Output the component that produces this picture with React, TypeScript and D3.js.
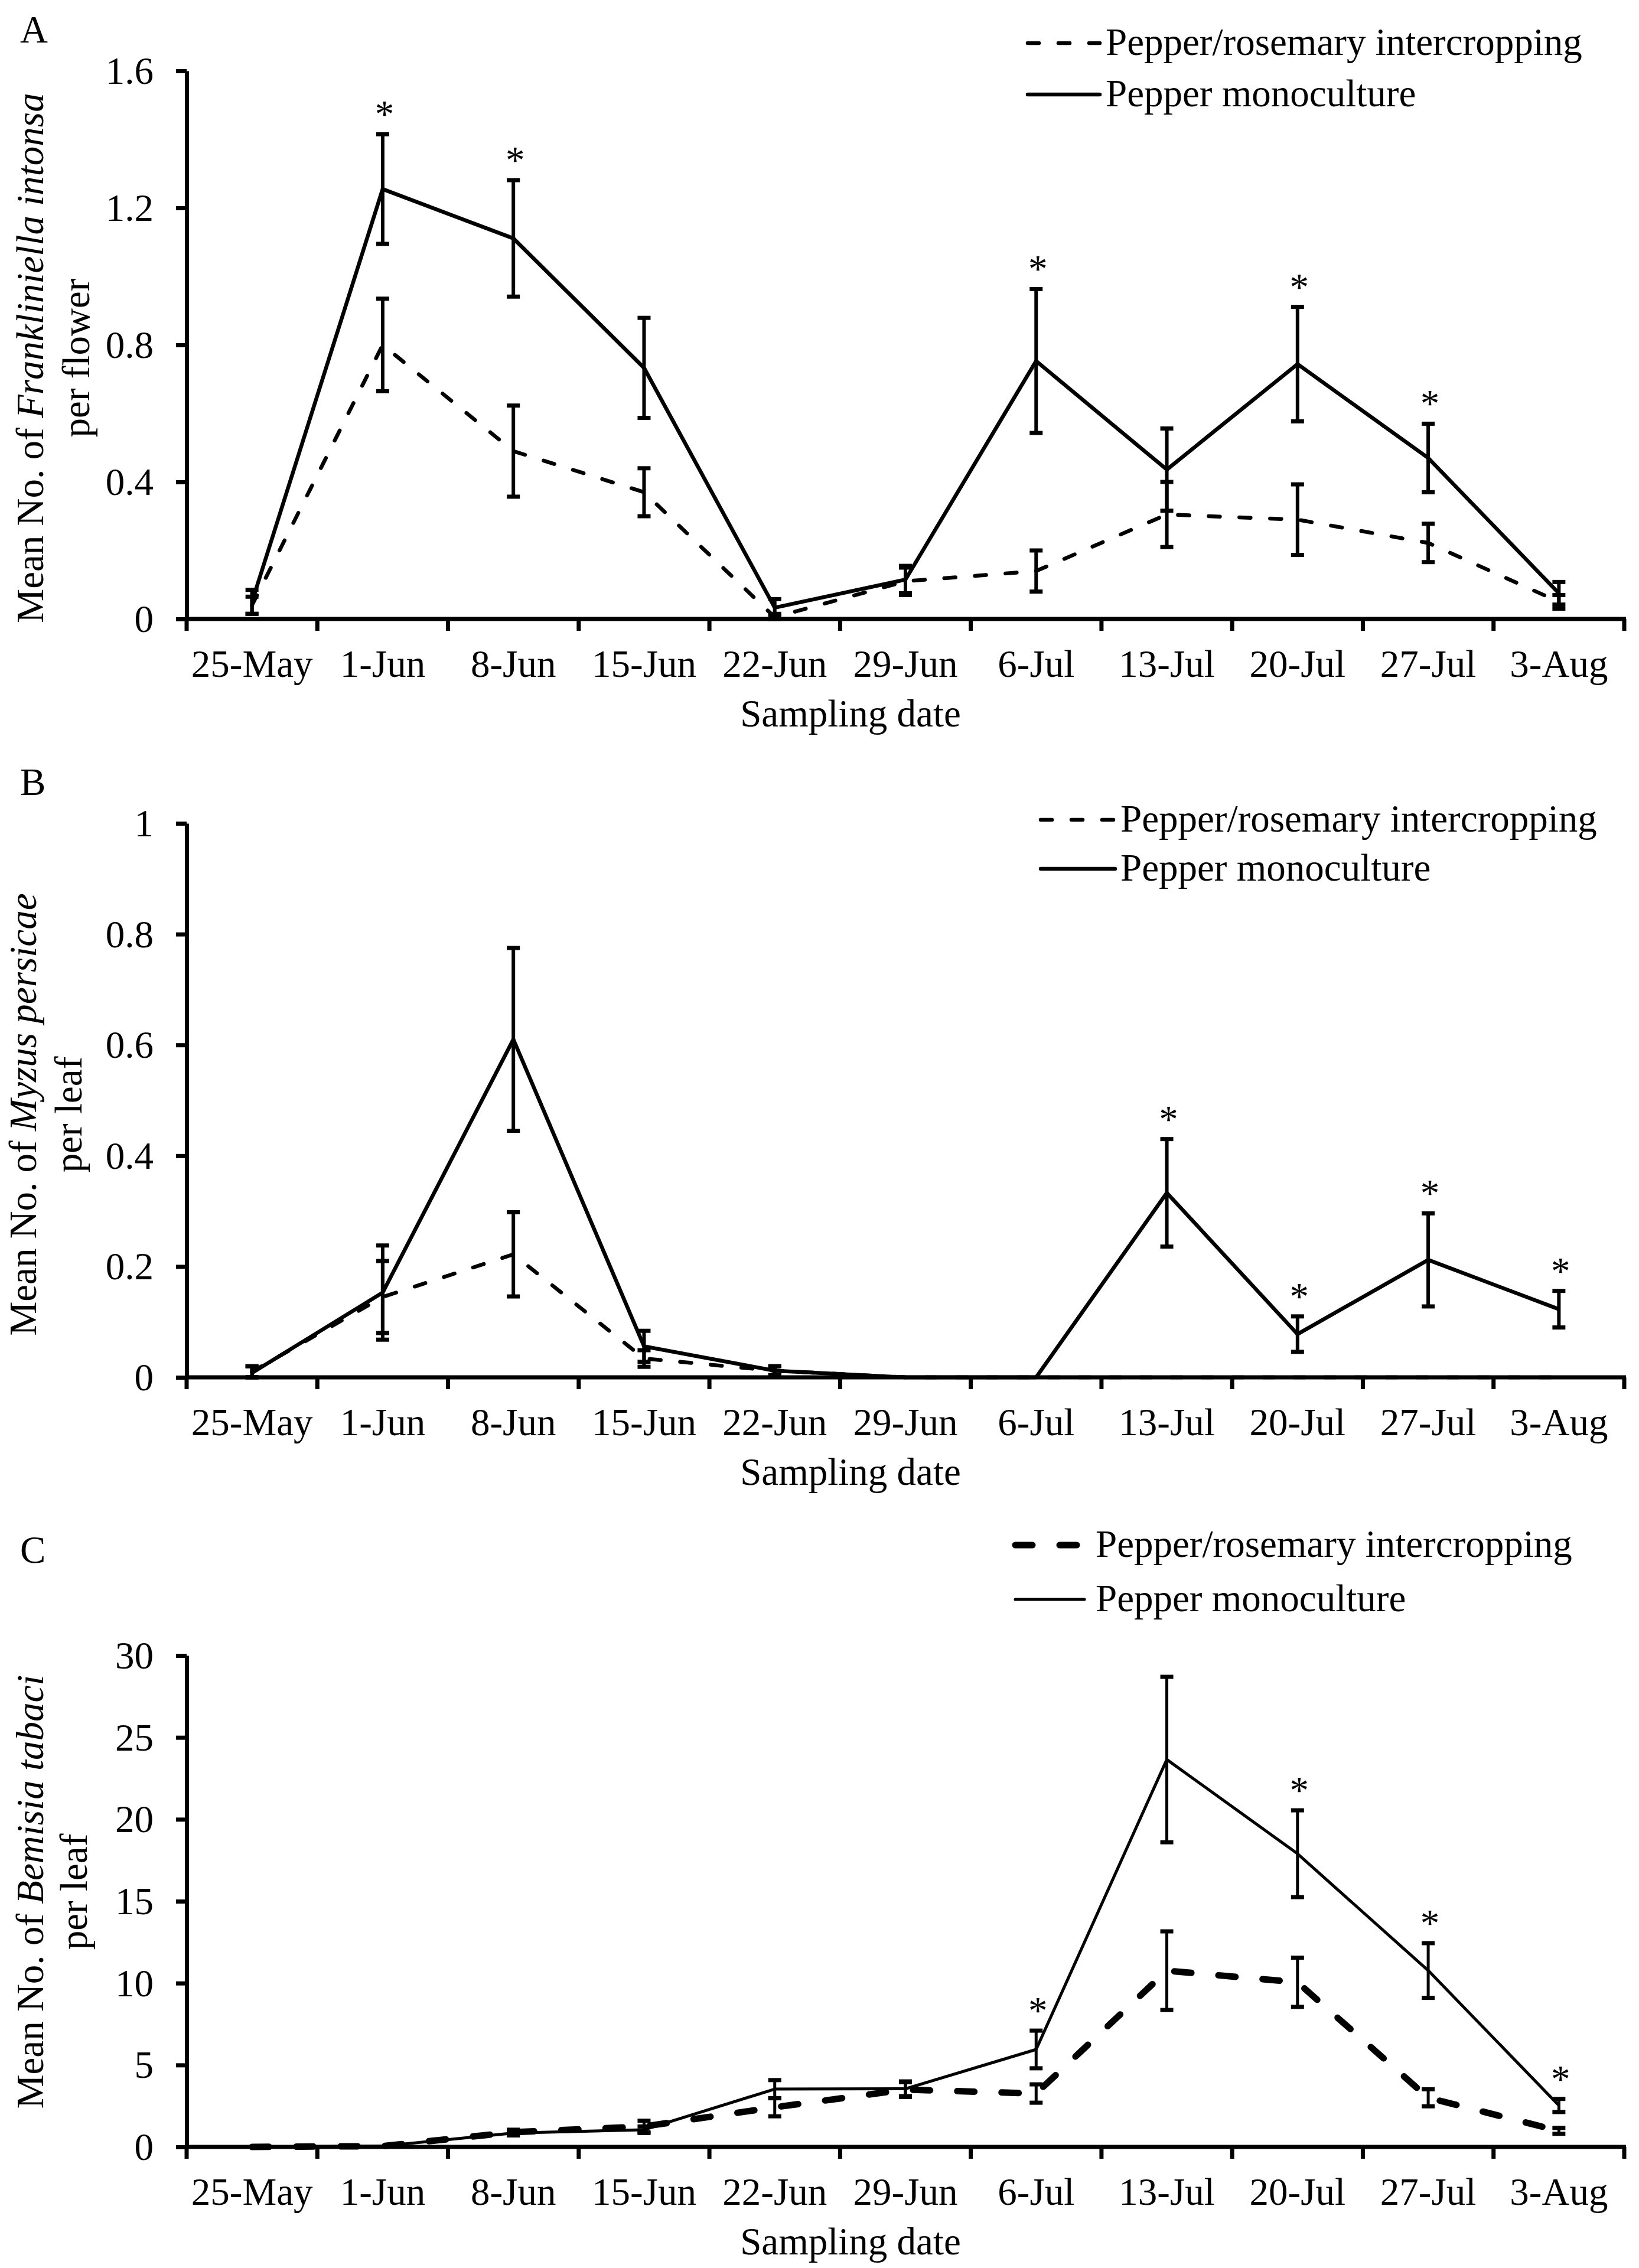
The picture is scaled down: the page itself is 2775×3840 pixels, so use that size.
import React, { useEffect, useRef } from 'react';
import * as d3 from 'd3';

// Sampling dates shared by all three panels
const dates = ['25-May', '1-Jun', '8-Jun', '15-Jun', '22-Jun', '29-Jun', '6-Jul', '13-Jul', '20-Jul', '27-Jul', '3-Aug'];

const legendLabels = ['Pepper/rosemary intercropping', 'Pepper monoculture'];

// A: Frankliniella intonsa per flower
const thripsInter = [0.04, 0.8, 0.49, 0.37, 0.005, 0.11, 0.14, 0.305, 0.29, 0.222, 0.05];
const thripsInterSE = [0.025, 0.135, 0.133, 0.07, 0.01, 0.04, 0.06, 0.095, 0.103, 0.056, 0.02];
const thripsMono = [0.05, 1.255, 1.111, 0.733, 0.033, 0.115, 0.753, 0.436, 0.744, 0.47, 0.075];
const thripsMonoSE = [0.035, 0.16, 0.17, 0.146, 0.025, 0.04, 0.21, 0.12, 0.167, 0.1, 0.033];
const thripsSig = ['1-Jun', '8-Jun', '6-Jul', '20-Jul', '27-Jul'];
const thripsTicks = [0, 0.4, 0.8, 1.2, 1.6];

// B: Myzus persicae per leaf
const aphidInter = [0.01, 0.145, 0.222, 0.034, 0.012, 0, 0, 0, 0, 0, 0];
const aphidInterSE = [0.01, 0.065, 0.076, 0.015, 0.008, 0, 0, 0, 0, 0, 0];
const aphidMono = [0.008, 0.153, 0.61, 0.056, 0.012, 0, 0, 0.333, 0.078, 0.212, 0.123];
const aphidMonoSE = [0.012, 0.085, 0.165, 0.028, 0.008, 0, 0, 0.097, 0.032, 0.084, 0.033];
const aphidSig = ['13-Jul', '20-Jul', '27-Jul', '3-Aug'];
const aphidTicks = [0, 0.2, 0.4, 0.6, 0.8, 1];

// C: Bemisia tabaci per leaf
const whiteInter = [0, 0.05, 0.9, 1.25, 2.42, 3.5, 3.26, 10.76, 10.05, 3.0, 0.98];
const whiteInterSE = [0, 0, 0.15, 0.35, 0.55, 0.45, 0.56, 2.4, 1.5, 0.52, 0.18];
const whiteMono = [0, 0.05, 0.85, 1.05, 3.53, 3.55, 5.95, 23.65, 17.9, 10.77, 2.53];
const whiteMonoSE = [0, 0, 0.15, 0.2, 0.55, 0.45, 1.15, 5.05, 2.65, 1.67, 0.4];
const whiteSig = ['6-Jul', '20-Jul', '27-Jul', '3-Aug'];
const whiteTicks = [0, 5, 10, 15, 20, 25, 30];

const FONT = '"Liberation Serif", "Times New Roman", serif';
const FS = 65;
const AXIS_X = 316;
const AXIS_END = 2750;

const panels = [
  {
    letter: 'A', letterY: 72, species: 'Frankliniella intonsa', unit: 'per flower',
    inter: thripsInter, interSE: thripsInterSE, mono: thripsMono, monoSE: thripsMonoSE,
    sig: thripsSig, ticks: thripsTicks, max: 1.6, fmt: (d: number) => String(d),
    y0: 1048, y1: 120, titleX: [73, 151], titleY: 606,
    legend: { x1: 1740, x2: 1862, tx: 1872, ys: [73, 160] },
    thick: false,
  },
  {
    letter: 'B', letterY: 1346, species: 'Myzus persicae', unit: 'per leaf',
    inter: aphidInter, interSE: aphidInterSE, mono: aphidMono, monoSE: aphidMonoSE,
    sig: aphidSig, ticks: aphidTicks, max: 1, fmt: (d: number) => String(d),
    y0: 2332, y1: 1394, titleX: [61, 138], titleY: 1887,
    legend: { x1: 1762, x2: 1888, tx: 1897, ys: [1388, 1471] },
    thick: false,
  },
  {
    letter: 'C', letterY: 2646, species: 'Bemisia tabaci', unit: 'per leaf',
    inter: whiteInter, interSE: whiteInterSE, mono: whiteMono, monoSE: whiteMonoSE,
    sig: whiteSig, ticks: whiteTicks, max: 30, fmt: (d: number) => String(d),
    y0: 3635, y1: 2803, titleX: [73, 147], titleY: 3203,
    legend: { x1: 1719, x2: 1836, tx: 1855, ys: [2616, 2708] },
    thick: true,
  },
];

export default function App() {
  const svgRef = useRef<SVGSVGElement>(null);

  useEffect(() => {
    if (!svgRef.current) return;
    document.body.style.margin = '0';
    const svg = d3.select(svgRef.current);
    svg.selectAll('*').remove();

    const x = d3.scaleBand<string>().domain(dates).range([AXIS_X, AXIS_END]);
    const cx = (d: string) => (x(d) as number) + x.bandwidth() / 2;

    panels.forEach(p => {
      const g = svg.append('g');
      const y = d3.scaleLinear().domain([0, p.max]).range([p.y0, p.y1]);

      // styles per panel
      const solidW = p.thick ? 5 : 6.5;
      const dashW = p.thick ? 11 : 6.5;
      const dash = p.thick ? '29,46' : '19,33';

      // panel letter
      g.append('text').attr('x', 34).attr('y', p.letterY)
        .attr('font-family', FONT).attr('font-size', FS).text(p.letter);

      // y axis
      const yAxis = g.append('g')
        .attr('transform', `translate(${AXIS_X},0)`)
        .call(d3.axisLeft(y).tickValues(p.ticks).tickFormat(d => p.fmt(d as number))
          .tickSize(18).tickSizeOuter(0).tickPadding(38));
      yAxis.attr('font-family', FONT).attr('font-size', FS);
      yAxis.select('.domain').attr('stroke', '#000').attr('stroke-width', 7);
      yAxis.selectAll('line').attr('stroke', '#000').attr('stroke-width', 7);
      yAxis.selectAll('text').attr('fill', '#000').attr('dy', '0.33em');

      // x axis labels at category centres
      const xAxis = g.append('g')
        .attr('transform', `translate(0,${p.y0})`)
        .call(d3.axisBottom(x).tickSize(0).tickPadding(52));
      xAxis.attr('font-family', FONT).attr('font-size', FS);
      xAxis.select('.domain').remove();
      xAxis.selectAll('text').attr('fill', '#000');

      // x axis line and boundary ticks
      g.append('line').attr('x1', AXIS_X - 3).attr('x2', AXIS_END + 3)
        .attr('y1', p.y0).attr('y2', p.y0)
        .attr('stroke', '#000').attr('stroke-width', 7);
      g.selectAll('.xtick').data(d3.range(dates.length + 1)).join('line')
        .attr('x1', i => AXIS_X + i * x.bandwidth()).attr('x2', i => AXIS_X + i * x.bandwidth())
        .attr('y1', p.y0).attr('y2', p.y0 + 20)
        .attr('stroke', '#000').attr('stroke-width', 7);

      // axis titles
      g.append('text').attr('x', 1440).attr('y', p.y0 + 182)
        .attr('text-anchor', 'middle').attr('font-family', FONT).attr('font-size', FS)
        .text('Sampling date');

      const t1 = g.append('text')
        .attr('transform', `translate(${p.titleX[0]},${p.titleY}) rotate(-90)`)
        .attr('text-anchor', 'middle').attr('font-family', FONT).attr('font-size', FS);
      t1.append('tspan').text('Mean No. of ');
      t1.append('tspan').attr('font-style', 'italic').text(p.species);
      g.append('text')
        .attr('transform', `translate(${p.titleX[1]},${p.titleY}) rotate(-90)`)
        .attr('text-anchor', 'middle').attr('font-family', FONT).attr('font-size', FS)
        .text(p.unit);

      const line = d3.line<number>()
        .x((_, i) => cx(dates[i]))
        .y(v => y(v));

      // intercropping (dashed) series
      g.append('path').datum(p.inter)
        .attr('d', line).attr('fill', 'none').attr('stroke', '#000')
        .attr('stroke-width', dashW).attr('stroke-dasharray', dash)
        .attr('stroke-linecap', 'round').attr('stroke-linejoin', 'round');

      // monoculture (solid) series
      g.append('path').datum(p.mono)
        .attr('d', line).attr('fill', 'none').attr('stroke', '#000')
        .attr('stroke-width', solidW).attr('stroke-linejoin', 'round');

      // error bars
      const bars = (vals: number[], se: number[]) => {
        vals.forEach((v, i) => {
          if (!se[i]) return;
          const px = cx(dates[i]);
          const top = y(v + se[i]);
          const bot = y(Math.max(0, v - se[i]));
          g.append('line').attr('x1', px).attr('x2', px).attr('y1', top).attr('y2', bot)
            .attr('stroke', '#000').attr('stroke-width', p.thick ? 5 : 6);
          [top, bot].forEach(cy => {
            g.append('line').attr('x1', px - 11).attr('x2', px + 11).attr('y1', cy).attr('y2', cy)
              .attr('stroke', '#000').attr('stroke-width', 7);
          });
        });
      };
      bars(p.inter, p.interSE);
      bars(p.mono, p.monoSE);

      // significance marks
      p.sig.forEach(d => {
        const i = dates.indexOf(d);
        g.append('text').attr('x', cx(d) + 3).attr('y', y(p.mono[i] + p.monoSE[i]) - 12)
          .attr('text-anchor', 'middle').attr('font-family', FONT).attr('font-size', FS)
          .text('*');
      });

      // legend
      legendLabels.forEach((lab, k) => {
        const ly = p.legend.ys[k];
        g.append('line').attr('x1', p.legend.x1).attr('x2', p.legend.x2).attr('y1', ly).attr('y2', ly)
          .attr('stroke', '#000')
          .attr('stroke-width', k === 0 ? dashW : solidW)
          .attr('stroke-dasharray', k === 0 ? dash : null)
          .attr('stroke-linecap', 'round');
        g.append('text').attr('x', p.legend.tx).attr('y', ly + 20)
          .attr('font-family', FONT).attr('font-size', FS).text(lab);
      });
    });
  }, []);

  return (
    <svg ref={svgRef} width={2775} height={3840} viewBox="0 0 2775 3840"
      style={{ display: 'block', background: '#fff' }} />
  );
}
